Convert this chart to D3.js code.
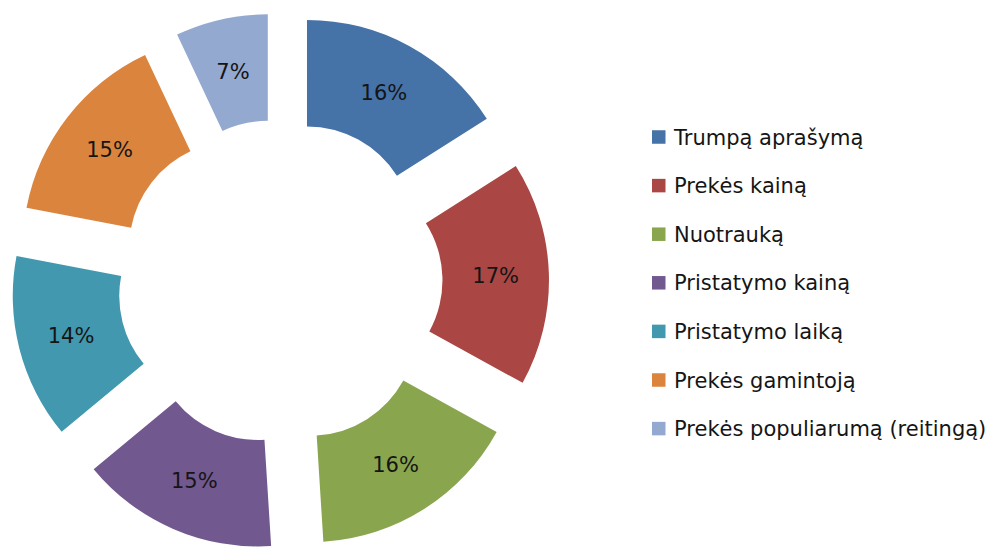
<!DOCTYPE html>
<html>
<head>
<meta charset="utf-8">
<script src="https://cdn.jsdelivr.net/npm/d3@7"></script>
<style>
  html, body { margin: 0; padding: 0; background: #fff; }
  svg { display: block; }
  text { font-family: "DejaVu Sans", "Open Sans", sans-serif; fill: #151515; }
</style>
</head>
<body>
<svg id="chart" width="995" height="547"></svg>
<script>
// Survey answers: share of respondents per product information item
const categories = [
  "Trumpą aprašymą",
  "Prekės kainą",
  "Nuotrauką",
  "Pristatymo kainą",
  "Pristatymo laiką",
  "Prekės gamintoją",
  "Prekės populiarumą (reitingą)"
];
const values = [16, 17, 16, 15, 14, 15, 7];
const colors = ["#4572A7", "#AA4643", "#89A54E", "#71588F", "#4198AF", "#DB843D", "#93A9CF"];

const svg = d3.select("#chart");

const cx = 280, cy = 282;
const outerR = 213, innerR = 106.5;
const explode = 56;

const pie = d3.pie().sort(null).value(d => d.value);
const arcs = pie(categories.map((c, i) => ({ name: c, value: values[i], color: colors[i] })));
const arc = d3.arc().innerRadius(innerR).outerRadius(outerR);

const total = d3.sum(values);
const fmt = v => Math.round(v / total * 100) + "%";

const g = svg.append("g").attr("transform", `translate(${cx},${cy})`);

// each ring segment is pushed out along its own bisector
const slice = g.selectAll("g.slice")
  .data(arcs)
  .join("g")
  .attr("class", "slice")
  .attr("transform", d => {
    const a = (d.startAngle + d.endAngle) / 2;
    return `translate(${explode * Math.sin(a)},${-explode * Math.cos(a)})`;
  });

slice.append("path")
  .attr("d", arc)
  .attr("fill", d => d.data.color);

slice.append("text")
  .attr("transform", d => `translate(${arc.centroid(d)})`)
  .attr("text-anchor", "middle")
  .attr("dy", "0.36em")
  .style("font-size", "21px")
  .text(d => fmt(d.data.value));

// Legend
const legend = svg.append("g").attr("transform", "translate(652,137)");
const step = 48.6;
const item = legend.selectAll("g")
  .data(categories)
  .join("g")
  .attr("transform", (d, i) => `translate(0,${i * step})`);

item.append("rect")
  .attr("x", 0).attr("y", -6.75)
  .attr("width", 13.5).attr("height", 13.5)
  .attr("fill", (d, i) => colors[i]);

item.append("text")
  .attr("x", 22)
  .attr("dy", "0.36em")
  .style("font-size", "21px")
  .text(d => d);
</script>
</body>
</html>
